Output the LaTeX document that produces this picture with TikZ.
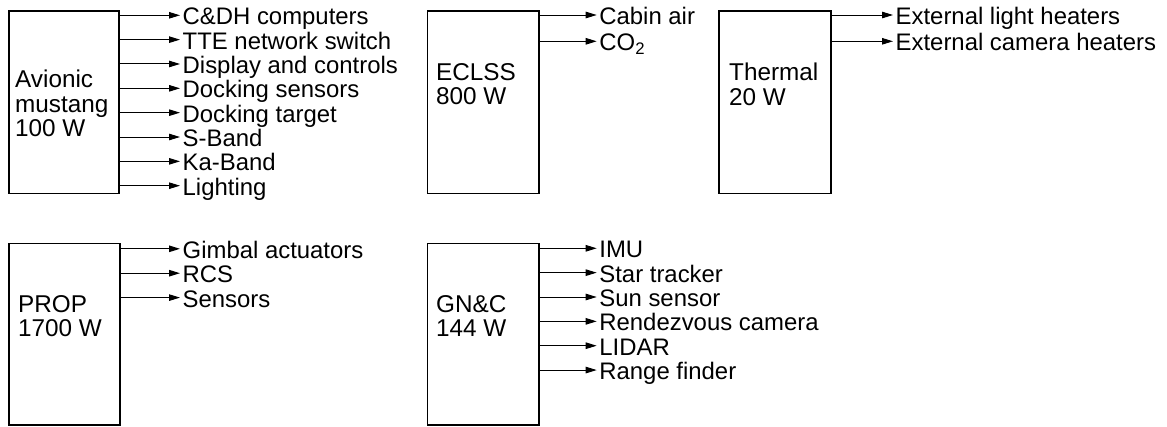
\documentclass[tikz,border=0pt]{standalone}
\usepackage{fontspec}
\setmainfont{Liberation Sans}
\usetikzlibrary{arrows.meta}
\begin{document}
\begin{tikzpicture}[x=1pt,y=-1pt,
  box/.style={draw, line width=1.7pt, inner sep=0pt, anchor=north west},
  lbl/.style={anchor=north west, inner sep=0pt, align=left, font=\fontsize{24.3}{24.5}\selectfont},
  item/.style={anchor=west, inner xsep=2.5pt, inner ysep=0pt, text height=19pt, text depth=0pt, font=\fontsize{23.9}{24}\selectfont},
  arr/.style={line width=1pt, -{Triangle[length=11pt,width=6.5pt]}}]
\useasboundingbox (0,0) rectangle (1167,426);

% boxes
\node[box, minimum width=110pt, minimum height=182.7pt] (av) at (8,10) {};
\node[box, minimum width=111.6pt, minimum height=182.7pt] (ec) at (426.7,10) {};
\node[box, minimum width=111.7pt, minimum height=182.7pt] (th) at (718.3,10) {};
\node[box, minimum width=111pt, minimum height=181.6pt] (pr) at (8,242.7) {};
\node[box, minimum width=111.6pt, minimum height=181.6pt] (gn) at (426.7,242.7) {};

% box labels
\node[lbl] (avl) at (15,70) {Avionic\\mustang\\100 W};
\node[lbl] (ecl) at (436,63) {ECLSS\\800 W};
\node[lbl] (thl) at (729,63) {Thermal\\20 W};
\node[lbl] (prl) at (18,295) {PROP\\1700 W};
\node[lbl] (gnl) at (436,295) {GN\&C\\144 W};

% avionic outputs
\foreach \t [count=\i from 0] in {C\&DH computers, TTE network switch, Display and controls, Docking sensors, Docking target, S-Band, Ka-Band, Lighting} {
  \node[item] (av\i) at (180,15.3+24.34*\i) {\t};
  \draw[arr] (av\i.west -| av.east) -- (av\i.west);
}

% ECLSS outputs
\foreach \t [count=\i from 0] in {Cabin air, CO\textsubscript{2}} {
  \node[item] (ec\i) at (596.7,15+26.3*\i) {\t};
  \draw[arr] (ec\i.west -| ec.east) -- (ec\i.west);
}

% Thermal outputs
\foreach \t [count=\i from 0] in {External light heaters, External camera heaters} {
  \node[item] (th\i) at (893,15+26.3*\i) {\t};
  \draw[arr] (th\i.west -| th.east) -- (th\i.west);
}

% PROP outputs
\foreach \t [count=\i from 0] in {Gimbal actuators, RCS, Sensors} {
  \node[item] (pr\i) at (180,248.8+24.4*\i) {\t};
  \draw[arr] (pr\i.west -| pr.east) -- (pr\i.west);
}

% GN&C outputs
\foreach \t [count=\i from 0] in {IMU, Star tracker, Sun sensor, Rendezvous camera, LIDAR, Range finder} {
  \node[item] (gn\i) at (596.7,248.3+24.35*\i) {\t};
  \draw[arr] (gn\i.west -| gn.east) -- (gn\i.west);
}
\end{tikzpicture}
\end{document}
